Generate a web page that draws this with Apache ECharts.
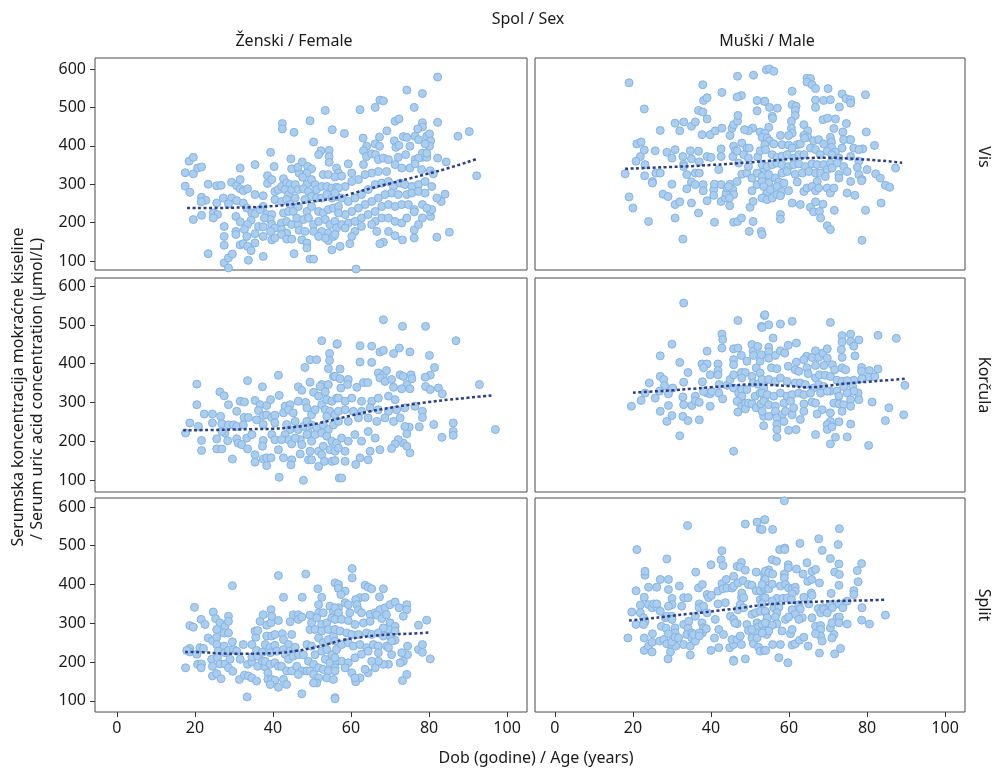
<!DOCTYPE html>
<html>
<head>
<meta charset="utf-8">
<title>Uric acid by age, sex and island</title>
<script src="https://cdn.jsdelivr.net/npm/echarts@6/dist/echarts.min.js"></script>
<style>
  html, body { margin: 0; padding: 0; background: #fff; }
  #chart { width: 995px; height: 768px; }
</style>
</head>
<body>
<div id="chart"></div>
<script>
'use strict';

// tick labels
var ageTicks = [0, 20, 40, 60, 80, 100];
var valTicks = [100, 200, 300, 400, 500, 600];
var sexNames = ['Ženski / Female', 'Muški / Male'];
var siteNames = ['Vis', 'Korčula', 'Split'];

// [age, serum uric acid]
var visF = [[18.5,360],[19.6,370],[17.5,330],[17.5,295],[18.7,279],[19.6,327],[19.6,208],[20.7,342],[21.7,345],[21.7,266],[22.8,258],[21.6,254],[21.7,219],[23.4,300],[23.4,119],
[25.6,296],[26.7,297],[25.6,251],[24.7,225],[25.8,221],[24.7,212],[27.5,190],[27.5,164],[27.5,141],[27.5,95],[28.6,108],[29.6,118],[28.6,82],[27.3,264],[29.4,264],[30.7,257],[28.6,249],
[29.4,305],[30.7,296],[31.6,288],[32.4,283],[33.5,288],[31.6,342],[31.6,312],[30.5,216],[31.6,202],[30.5,177],[30.5,169],[31.6,142],[32.4,145],[33.5,138],[34.4,127],[33.7,102],[32.4,251],[33.3,238],[34.6,225],[35.4,223],[34.4,206],[33.5,195],[32.7,182],[33.3,164],[35.4,351],[35.4,273],[35.4,171],[35.4,147],[36.3,190],
[37.5,270],[37.5,242],[37.5,189],[37.5,164],[37.5,112],[39.4,383],[38.6,322],[38.6,302],[39.7,312],[40.3,346],[38.4,221],[39.7,221],[39.3,208],[39.7,195],[40.5,186],[39.4,177],[39.7,155],[40.5,160],[37.8,212],[36.7,234],[40.5,281],[40.5,260],[41.4,286],[42.2,294],
[42.4,458],[42.4,444],[45.4,435],[44.6,366],[44.8,340],[42.7,314],[43.5,303],[44.4,299],[43.1,286],[44,273],[44.8,286],[45.7,299],[42.2,255],[43.5,260],[44.4,247],[45.7,264],[42.7,225],[44,229],[45.2,229],[42.2,199],[43.5,203],[44.8,195],[42.2,182],[43.5,173],[42.2,169],[43.5,157],[44.8,157],[45.4,119],[46.5,195],[46.7,180],[46.1,212],[46.5,242],[46.5,286],[46.7,329],[46.4,344],
[49.5,465],[50.4,410],[53.4,492],[55.2,442],[52.3,387],[54.4,388],[54.4,372],[54.4,357],[51.7,377],[47.4,155],[48.7,147],[48.7,134],[49.5,105],[50.4,105],[55.1,129],[54.2,153],[47.5,358],[48.9,346],[49.9,340],[48.7,329],[47.6,318],[48.7,300],[49.9,312],[50.8,299],[47.8,288],[49.1,281],[51.2,286],[52.5,294],[53.8,294],[55.1,290],[56.3,292],[52.9,325],[54.2,325],[56.3,342],[49.9,268],[48.2,260],[51.2,264],[52.5,264],[53.8,273],[55.1,264],[56.3,268],[48.7,229],[49.9,242],[51.7,229],[52.9,225],[54.2,234],[55.5,238],[56.8,242],[47.8,208],[49.1,212],[50.4,195],[51.7,203],[53.4,208],[54.6,195],[55.9,203],[48.2,177],[50.4,177],[52.5,177],[54.2,173],[55.5,164],[56.3,186],[53.4,160],[51.7,164],
[82.2,579],[74.3,545],[78.3,536],[67.4,519],[68.3,517],[62.3,494],[66.2,500],[76.2,500],[71.3,464],[72.3,470],[82.2,461],[78.3,460],[78.3,449],[77.1,444],[69.2,439],[58.3,432],[87.4,425],[90.3,437],[92.2,322],[63.1,420],[67.3,423],[66.2,405],[67.3,399],[73.4,424],[74.3,422],[76.4,425],[77.3,416],[79.4,425],[80.1,431],[80.4,413],[80.1,399],[79,405],[75.1,399],[71.1,413],[71.5,396],[72.3,401],[64,399],[63.2,387],[64,372],[65.3,379],[66.3,377],[82.2,368],[84.4,358],[78.3,370],[79.4,370],[78.3,381],[79.4,381],[76.4,364],[77.3,368],[63.2,351],[59.3,353],[56.8,329],[55.9,319],[57.6,321],[60.2,329],
[67,364],[68.3,368],[69.6,364],[72.1,370],[74,377],[71.3,351],[73,342],[75.1,342],[76.4,353],[78.1,338],[80.3,335],[81.1,327],[69.1,333],[67,333],[65.3,329],[63.6,325],[61.9,312],[60.2,307],[58.5,294],[56.8,290],[55.9,277],[57.6,264],[59.3,255],[61,264],[62.7,273],[64.4,286],[66.2,299],[67.9,303],[69.6,307],[70.9,294],[72.6,303],[73.8,299],[75.6,294],[77.3,299],[79,307],[80.7,294],[70.4,277],[72.1,273],[74.3,273],[75.6,277],[77.3,281],[79,277],[68.7,273],[67,264],[65.3,255],[63.6,247],[61.9,238],[60.2,229],[58.5,221],[56.8,225],[57.6,195],[59.3,199],[61,203],[62.7,212],[64.4,221],[66.2,229],[67.9,242],[69.6,247],[71.3,242],[73,247],[74.7,247],[67.9,212],[69.6,212],[71.3,203],[73,199],[74.3,212],[66.2,203],[61,177],[60.2,164],[62.7,190],[65.3,195],[66.6,177],[69.6,177],[71.3,166],[68.3,149],[67.4,145],[73.2,155],[76.2,160],[76.2,181],[77.3,195],[78.3,212],[80.4,216],[80.3,229],[80.7,234],[76.2,234],[76.2,228],[78.3,247],[79.4,238],[84.1,274],[83.1,255],[82,264],[85.2,175],[82,162],[57.2,138],[59.7,145],[61.3,79],[55.9,169],[58.5,186]];

var visM = [[19,564],[22.9,496],[27,440],[21,405],[22.1,410],[22.9,389],[21.9,372],[20.8,360],[23.1,351],[23,322],[18,327],[19,267],[20,238],[24,203],[25,307],[25,303],[25.7,387],[25.9,329],[27,329],[27.7,274],[29,268],[30,300],[28.7,383],[30,368],[30.8,390],[30.8,459],[33,462],[32,439],[35,451],[36,462],[32.8,372],[33,352],[33,346],[34.7,387],[35,366],[33.8,325],[36,329],[35,306],[33.8,288],[30.8,247],[32,254],[30.8,212],[35,251],[32.8,157],[36.8,225],[36,299],[37,358],[36.8,386],[36.8,492],[37.9,488],[37.9,559],[38.1,518],[39,525],[39,470],[37.7,429],[39.8,429],[41.1,439],[42.8,446],[42.8,539],[39,372],[40,370],[37,329],[38,299],[38,283],[39,257],[40.7,286],[40.7,271],[40.9,300],[42,338],[42.6,392],[42.6,372],[42.6,299],[42.6,255],[40.9,201],[43.7,264],[43.9,277],[44.1,290],[44.9,300],[44.9,427],[45.4,446],[45.8,455],[46.8,464],[46.9,479],[45.8,399],[46.2,387],[45.6,372],[46.7,386],[47.9,407],[49.2,394],[49.8,394],[48.4,377],[49.6,368],[47.1,355],[47.9,326],[49.2,329],[46.7,307],[45.6,286],[45.8,273],[44.7,264],[44.5,294],[45.8,201],[46.8,203],[47.8,212],[44.8,244],[49.8,177],[50.8,203],[50,240],[50.8,255],[50.5,283],[51.8,299],[50.5,316],[49.6,346],[51.8,329],[52,371],[52.6,387],[52.9,177],[51.8,518],[53.7,516],[51.8,491],[46.8,581],[47.8,531],[46.7,527],[50.9,584],[54.2,598],[50.7,446],[49.6,439],[48.6,442],[52.6,436],[53.5,420],[54.3,277],[53.5,264],[53.9,312],[53.5,342],
[55,600],[56.1,594],[64.6,576],[65.5,575],[64.6,566],[65.9,559],[66.8,549],[60.8,542],[70,549],[73.6,535],[74.6,523],[75.8,520],[75.8,511],[79.6,533],[53.8,516],[55,500],[57,498],[60.8,507],[61.8,503],[61.6,492],[61.6,479],[55.7,477],[55.8,471],[66.8,519],[68.9,518],[70.6,520],[66.8,500],[72.9,501],[68.7,468],[69.9,472],[71.9,470],[63.8,455],[60.6,464],[60.6,446],[60.8,433],[64.8,439],[63.8,427],[64.8,422],[71.5,445],[74.7,458],[73.8,436],[75.5,416],[79.8,436],[81.9,401],[78.9,392],[59.9,427],[57.8,427],[54.8,448],[53.8,433],[53.1,422],[54.4,420],[55,413],
[53.8,403],[56.1,405],[58.2,403],[59.9,402],[62.1,403],[62.9,405],[64,420],[66.3,413],[67.6,416],[68.9,405],[70.6,422],[70.9,410],[70.9,396],[71.9,384],[73.6,394],[74,416],[75.8,416],[76.6,394],[77.9,390],
[54,390],[55.7,377],[57,370],[58.2,373],[59.5,377],[60.8,394],[61.2,368],[62.5,377],[63.8,377],[65.5,394],[66.8,390],[68,377],[69.8,386],[71,377],[72.8,368],[75.8,372],[77.9,360],
[53.1,351],[54.4,346],[55.7,351],[56.9,355],[58.2,351],[59.9,346],[61.2,351],[62.5,353],[64.2,346],[65.9,353],[67.2,351],[68.9,351],[70.6,355],[72.3,355],[74,346],[77.5,344],
[53.1,320],[54.8,325],[56.5,316],[58.2,329],[59.5,333],[61.6,326],[63.4,329],[65.1,333],[66.8,329],[68.1,329],[69.8,338],[71,342],[72.8,325],[74.9,333],[77.9,325],[78.7,312],[80,338],[82.2,327],[83.4,316],
[53.1,307],[54.8,303],[57.4,306],[58.7,303],[62.1,306],[67.2,307],[69.3,320],[72.8,316],[75.8,307],[78.6,309],
[53.5,294],[55.2,286],[56.9,294],[58.2,281],[59.9,283],[63.8,281],[64.6,290],[65.9,294],[66.8,283],[67.6,290],[69.8,290],[70.6,277],[71.5,290],[74.9,277],[76.9,271],[84.7,297],[85.8,292],
[53.1,264],[54.4,260],[55.7,264],[56.9,273],[57.8,270],[60.8,251],[62.9,247],[65.5,240],[66.3,228],[66.8,254],[67.8,229],[68.7,248],[68.1,212],
[71.6,232],[79.6,232],[83.6,251],[69.8,192],[70.6,182],[78.7,154],[53.1,169],[57.8,221],[57.8,209],[87.3,342]];

var korF = [[17.6,221],[18.7,247],[20.5,347],[20.5,294],[20.9,238],[21.7,202],[21.7,176],[22.4,270],[24.5,270],[24.5,247],[25.6,206],[25.6,180],[26.9,180],[26.4,327],[27.5,317],[26.6,264],[26.9,245],[27.7,221],[26.9,225],[28.6,294],[28.6,242],[28.4,201],[29.6,154],[30.7,277],[29.9,242],[30.7,238],[30.7,206],[31.1,195],[32,191],[31.6,303],[32.7,301],[33.5,356],[32.6,261],[33.7,261],[32.4,242],[33.3,208],[33.5,180],[34.6,217],[35.4,305],[35.8,255],[35.4,165],[35.4,146],[36.7,294],[36.3,279],[37.3,340],[37.5,266],[38.4,268],[37.5,243],[37.5,202],[37.3,187],[37.5,154],[38.4,157],[38.4,137],[39.5,157],[38.4,292],[39.4,307],[39.7,261],[40.5,267],[41.4,370],[41.6,318],[40.5,247],[39.7,217],[40.5,204],[41.4,178],[41.6,107],[42.7,157],[43.1,290],[42.7,273],[43.5,243],[44.4,230],[43.1,217],[44.4,294],[44,281],[45.2,273],[44,204],[44.8,193],[44.8,152],[44.6,139],[45.7,251],[46.5,303],[46.5,340],[47.4,331],[46.5,230],[47.8,238],[47,204],[47.4,191],[47,167],[47.8,99],[48.2,390],[49.5,410],[51.2,410],[48.4,300],[48.7,286],[49.9,268],[50.8,281],[49.5,352],[50.4,326],[51.7,316],[52.5,294],[48.7,251],[49.9,242],[51.2,234],[49.1,221],[50.8,217],[49.9,200],[49.5,174],[49.1,152],[49.9,152],[51.7,174],[52.5,165],[52.5,459],[52.5,346],[54.2,346],[52.1,341],[53.4,327],[54.5,426],[54.5,408],[54.2,387],[55.5,367],[56.4,450],[53.8,307],[55.1,303],[56.3,311],[53.4,281],[54.6,277],[55.9,268],[52.9,242],[54.2,230],[55.5,242],[56.8,251],[52.5,221],[53.8,213],[55.1,200],[56.3,195],[52.9,187],[54.6,178],[55.9,174],[53.2,148],[55.1,148],[51.7,135],[57,105],[53.8,264],[45.7,208],[48.7,217],[42.2,204],
[68.3,513],[73.2,496],[79.1,496],[86.9,459],[56.5,451],[62.3,446],[65.3,445],[67.4,430],[68.3,434],[70.9,426],[72.4,440],[75.1,430],[62.3,404],[65.3,403],[80.1,421],[81.4,390],[80.3,370],[79,365],[57.2,386],[55.9,367],[57.2,361],[59.3,359],[59.1,346],[57.4,337],[61.5,339],[63.2,351],[64.3,351],[67,376],[68.3,371],[69.1,382],
[67.4,363],[68.7,354],[70.4,359],[72.6,371],[73.4,367],[75.4,371],[75.6,361],[74.3,346],[75.1,335],
[70.9,339],[73,335],[79.1,341],[80.3,333],[82.4,337],[83.4,322],[92.9,346],[97,230],[86.2,247],[86.2,225],[86.2,215],[83.3,210],[81.2,243],[78.3,277],[78.3,261],[77.5,237],[76.4,290],[74.9,236],[74.3,219],[75.1,170],[73.4,195],[74.3,187],[72.1,204],[71.3,193],[70.4,181],[67.4,178],[64.9,174],[64.4,152],[62.3,157],[61.2,140],[57.6,105],[58.5,148],[55.9,150],[61,217],[62.7,200],[64.4,225],[66.2,208],
[59.3,251],[61.9,260],[64.4,260],[66.6,251],[68.7,260],[70.9,251],[72.6,260],[73.8,238],
[56.8,311],[58.5,303],[60.2,311],[62.7,303],[65.3,303],[67,311],[69.6,316],[71.3,307],
[56.8,277],[58.5,281],[60.6,277],[62.7,277],[64.9,286],[67,281],[69.6,277],[71.7,281],[73.8,286],
[57.6,208],[59.3,200],[56.8,182],[58.5,174]];

var korM = [[19.6,290],[22.1,305],[23.1,324],[24.2,350],[25.7,311],[27,367],[27.9,359],[28.1,343],[27,420],[27,277],[26.8,329],[28.7,251],[30,266],[29.1,292],[29.1,322],[30,450],[30.2,337],[32,403],[32,214],[32.8,314],[33,294],[32.8,264],[34.1,253],[33,352],[34.1,377],[33,556],[35.1,292],[36,316],[36,304],[37,300],[37,255],[37.7,399],[39,399],[38.1,389],[39,432],[37.8,353],[39,324],[39.8,322],[39.8,371],[39.8,290],[41.8,399],[41.8,382],[41.8,371],[42,324],[42.8,476],[43,462],[42.8,440],[43,309],[44.1,344],[44.9,359],[45.8,438],[46.9,440],[45.8,410],[45.8,397],[45.8,371],[45.8,337],[46.9,511],[47.8,421],[47.1,324],[47.9,333],[47.9,316],[47.8,377],[48.8,377],[47.9,363],[46.7,303],[47.9,290],[46.9,275],[45.8,174],[49.2,406],[49.2,333],[48.8,298],[48.8,283],[49.6,298],[50.5,296],[50.5,449],[50.8,432],[50.9,421],[52,444],[50.5,367],[50.8,350],[52,347],[51.6,389],[52.6,376],[52.6,406],[52.9,423],[51.3,316],[52.6,324],[52.9,496],[53.7,524],[51.6,286],[52.8,296],[53.5,337],[53.7,307],[53.5,240],[53.5,264],[38.1,328],[40.2,328],[42.1,346],
[53.8,526],[54.8,500],[53.1,493],[57.8,502],[60.8,509],[70.6,506],[55.9,466],[73.6,472],[75.8,476],[73.6,456],[75.8,457],[77.9,461],[76.6,445],[82.8,473],[87.5,465],[61.9,453],[59.8,447],[54.8,442],[54.8,430],[54.8,414],[56.5,421],[57.8,433],[58.9,427],[73.4,436],[73.6,416],[76.9,420],[64.5,419],[65.9,416],[66.8,433],[67.6,416],[68.7,427],[69.8,438],[69.8,414],[63.8,410],[61.9,404],[66.8,395],[68.9,395],[71.1,397],[71.7,384],[73.6,389],[74.5,384],[78.6,390],[78.6,380],[80.6,382],[82.8,386],[80.5,365],[82,366],[76.6,357],[78.7,361],[55.5,389],[56.9,387],[59.8,393],[61.6,384],[62.5,380],[64.6,389],[64.9,374],
[66.8,363],[67.8,371],[69.3,370],[70.6,367],[72.3,357],[73.6,354],[74.9,356],[76.3,341],[77.7,324],
[53.1,359],[54.8,359],[56.5,354],[57.8,363],[59.5,354],[61.6,350],[62.9,350],[64.2,346],[66.3,337],[67.6,346],[68.9,341],[70.6,329],[72.3,329],[74,341],[76.6,329],
[53.1,324],[54.4,320],[56.1,316],[57.8,324],[59.5,316],[60.8,320],[62.5,324],[63.8,320],[65.5,324],[68.1,324],[69.8,329],[72.8,316],[74.9,324],[75.8,307],[77.9,307],[81.3,301],[85.6,286],[89.4,268],[89.7,344],[84.7,253],
[53.5,303],[54.8,294],[56.5,290],[58.7,298],[60.4,303],[63.8,296],[65.9,301],[66.8,298],[68.5,281],[70.6,273],[71.5,298],[72.8,296],[74,294],[75.8,290],
[53.1,277],[54.8,264],[56.5,277],[58.2,268],[59.1,277],[60.8,268],[61.2,286],[63.8,277],[67.2,270],[70.6,251],[72.8,250],[73.6,277],
[56.9,260],[58.7,251],[56.9,243],[56.9,230],[56.9,210],[59.9,228],[61.8,230],[62.9,256],[66.8,217],[69.8,243],[69.8,230],[71,237],[71.9,210],[70.6,193],[74.9,211],[75.8,244],[80.4,189]];

var splF = [[17.6,185],[18.7,294],[19.6,290],[18.7,235],[18.7,226],[17.9,230],[19.9,341],[20.5,220],[20.7,194],[21.7,195],[21.6,185],[21.6,310],[22.6,297],[21.3,237],[22.2,235],[23.4,262],[24.5,255],[24.3,207],[24.5,189],[24.5,164],[24.7,329],[25.3,312],[26.4,301],[25.6,284],[25.6,264],[25.6,245],[26,228],[25.8,211],[26.4,195],[27.7,195],[25.6,170],[26.7,157],[27.7,292],[27.5,275],[28.6,275],[28.6,318],[28.6,305],[27.5,241],[27.7,224],[28.6,230],[29.9,232],[29,207],[28.6,185],[29.7,176],[29.6,397],[29.6,252],[30.7,228],[31.6,207],[31.4,155],[32.7,166],[33.7,164],[34.6,159],[35.8,151],[32.4,245],[33.5,194],[34.6,200],[34.6,213],[33.4,110],[34.6,245],[35.6,264],[35.4,280],[36.1,281],[36.7,305],[35.8,230],[36.1,215],[37.3,225],[36.1,189],[37.3,202],[38,187],[37.5,322],[38.4,295],[39.5,301],[39.5,335],[39.7,318],[38.4,267],[39.7,267],[40.5,271],[38,245],[39.3,238],[40.5,243],[39.3,224],[41,228],[38,202],[39.3,194],[40.5,198],[41.4,189],[38.7,172],[38.7,155],[39.7,155],[40.5,153],[39.3,142],[41.4,135],[42.7,155],[43.5,142],[41.4,423],[42.7,367],[41.4,307],[42.4,273],[42.7,258],[44,245],[42.7,232],[43.1,220],[44,207],[42.2,189],[43.5,177],[44.4,304],[45.2,322],[46.5,322],[46.5,310],[47.4,316],[44.8,271],[44.4,228],[45.7,238],[45.2,215],[46.5,219],[47.8,219],[44.8,177],[46.1,189],[47.4,177],[46.5,168],[48.7,177],[47.4,118],[47.5,367],[48.4,427],[49.5,321],[49.5,284],[49.9,301],[48.7,245],[49.9,241],[50.8,219],[49.1,202],[50.4,194],[51.7,185],[49.5,177],[50.4,168],[51.7,159],[51.2,146],[50.4,146],[51.5,389],[52.5,367],[51.7,348],[51.7,327],[52.9,327],[51.2,314],[52.5,297],[53.8,301],[50.8,284],[52.5,280],[54.2,284],[51.7,262],[52.9,250],[54.2,258],[55.5,267],[52.5,228],[53.8,232],[55.1,219],[56.3,232],[53.4,207],[54.6,198],[56.3,202],[52.9,181],[54.2,177],[55.9,185],[53.8,159],[55.5,155],[55.9,108],[54.6,344],[55.5,331],[56.8,340],[56.6,398],[56.8,390],[55.1,314],[56.8,314],
[60.3,441],[60.3,417],[55.9,404],[56.8,400],[56.8,390],[58.5,383],[57.4,374],[63.6,398],[64.4,393],[65.3,389],[68.3,389],[62.3,366],[63.6,367],[61.2,361],[67.3,368],[55.9,340],[58.5,353],[59.3,348],[61.5,348],
[56.8,327],[59.7,327],[61.9,335],[62.7,327],[64.9,323],[66.2,327],[67.4,335],[68.7,340],[70,348],[71.3,355],[72.3,340],[74.3,348],[74.3,335],[73.4,318],
[55.9,310],[57.6,310],[59.3,307],[61,297],[63.2,301],[64.9,305],[66.6,321],[67.9,312],[69.1,322],[70,301],[71.3,292],[69.6,284],[68.3,288],[77.3,295],[79.4,308],
[55.9,284],[57.2,280],[58.9,275],[60.2,271],[61.9,271],[64,275],[65.3,271],[67,275],[68.3,267],[70,267],[71.3,280],[71.3,256],
[55.9,254],[57.6,245],[59.3,250],[60.6,241],[62.3,245],[64,237],[65.7,245],[67,241],[69.1,241],[70.4,254],[69.6,237],
[77.3,232],[78.3,245],[78.3,225],[74.5,241],[74.5,219],[73,224],[73.4,202],[72.6,198],[70.4,219],[69.6,194],[68.3,194],[67,202],
[55.9,211],[57.6,202],[59.3,198],[61,211],[62.7,220],[64.4,228],[65.3,202],[67,224],
[55.9,177],[58.5,185],[60.2,172],[62.3,159],[64.4,172],[66.2,185],[63.6,181],
[61.2,149],[61,159],[74.3,168],[73.2,152],[80.3,208],[55.9,105]];

var splM = [[18.7,262],[19.7,329],[20.8,384],[21,490],[20.8,297],[21.9,347],[21.9,327],[22.7,314],[23.1,304],[22.7,297],[22.9,262],[22.9,230],[23.1,424],[23.1,434],[22.9,367],[24,393],[24,241],[24.9,226],[24.9,251],[25,273],[24,348],[24.9,340],[26.1,341],[27,331],[25.3,350],[26.1,350],[26.1,393],[27,413],[26.8,254],[27.9,258],[27.3,292],[28.5,287],[28.3,314],[28.7,318],[30,318],[30,310],[28.7,466],[29.1,413],[29.1,387],[30,364],[30,348],[29.1,344],[28.7,247],[30,241],[29.6,226],[31,241],[30,252],[29,208],[30.8,288],[30.8,275],[29.1,273],[30.8,264],[31.9,396],[31.7,262],[33,245],[32.5,344],[33,366],[34.1,366],[33,297],[34.3,305],[34.1,287],[33.8,271],[35.1,275],[35.1,262],[34.7,241],[36,254],[35.5,271],[34.7,218],[36.1,432],[34,552],[36.8,391],[37.8,400],[37,350],[37,340],[38.1,344],[36,318],[37.7,301],[38.1,288],[37.8,275],[37,275],[37,267],[38.8,286],[39,374],[39.4,366],[40.1,372],[40,451],[39,327],[40,230],[40.9,262],[42,237],[42,284],[43.2,271],[41.1,310],[41.8,383],[42.8,402],[43.1,389],[41.8,350],[43.7,353],[42.8,487],[42.6,464],[43.1,449],[43.9,413],[44.1,391],[45.4,391],[44.8,237],[45.8,245],[45.4,258],[45.8,205],[45,318],[45.8,310],[46.7,299],[46.1,301],[45.8,421],[46.7,447],[47.8,457],[47.5,445],[48.8,437],[45.8,396],[46.9,404],[48.2,410],[47.8,367],[47.9,378],[48.4,366],[46.9,335],[47.5,348],[48.4,340],[46.7,258],[47.8,245],[47.5,267],[48.8,556],[51.8,561],[53.7,567],[52.6,543],[48.8,208],[45.8,202],[49.6,400],[50.5,398],[51.6,384],[52.6,384],[53.7,389],[53.7,393],[51.6,432],[53.7,427],[53.7,413],[54.8,438],
[49.2,297],[49.6,281],[50.5,284],[51.8,301],[52.2,290],[53.1,297],[54.3,284],[50.5,323],[51.4,327],[52.6,331],[54.1,327],[50.5,262],[52.2,275],[53.5,280],[54.3,271],[50.9,247],[52.2,238],[52.6,228],[53.7,230],[51.8,262],[52.6,361],[53.5,367],
[58.8,616],[53.8,567],[53.1,542],[55.8,542],[72.9,544],[67.6,518],[72.6,503],[62.8,506],[57.6,490],[58.9,494],[58.9,490],[68.5,488],[55.7,464],[56.8,460],[70.6,467],[64.6,456],[72.8,453],[78.6,454],[77.5,436],[59.8,451],[59.8,443],[61.9,440],[65.9,434],[66.8,439],[71.7,432],[72.9,426],[53.9,434],[54.8,430],[55.8,427],[58.8,427],[58.8,417],[63.6,427],[64.8,408],[65.8,413],[67.8,404],[72.8,398],[70.8,377],[77.7,407],[76.6,384],[76.6,374],[53.9,413],[53.1,400],[54.8,389],[55.7,401],[57.8,396],[59.1,400],[59.9,391],[60.8,389],[61.6,393],[61.6,383],[60.8,376],[63.8,367],[65.7,378],[65.9,372],[56.9,364],[58.4,364],[59.5,365],[60.6,361],[53.9,366],[55.7,357],[53.1,350],[62.5,348],[65.1,350],[67.5,338],[68.7,340],[70,340],[70.6,348],[71.1,340],[72.8,350],[73.8,340],[74.9,357],[78.7,340],[78.6,308],[80.6,298],[84.7,321],
[53.9,331],[56.1,340],[57.4,341],[56.9,327],[60.8,335],[62.9,337],[61.6,323],[63.4,314],[65.9,314],[68.1,327],[68.9,335],[69.8,327],[72.3,314],[72.9,316],
[54.4,314],[56.5,316],[59.1,310],[59.9,316],[56.9,299],[55.7,295],[53.9,301],[54.8,280],[53.1,275],[58.2,280],[60.4,273],[60.8,284],[62.5,310],[66.8,292],[68.1,294],[68.1,284],[68.1,267],[71.5,271],[70.6,288],[71,301],[72.8,301],[74.9,298],
[55.8,245],[57.8,245],[60.8,244],[61.6,247],[62.7,256],[63.8,264],[64.9,241],[66.8,273],[68.5,254],[71,262],[73.2,235],[71.7,221],[67.8,223],[57.4,211],[59.7,198],[54,230]];

// smoothed trend lines (dotted)
var visFTrend = [[18,238],[25,238],[30,239],[35,240],[40,243],[45,248],[50,255],[56,264],[60,275],[65,289],[70,302],[75,315],[80,328],[85,342],[92,365]];
var visMTrend = [[18,340],[25,343],[30,345],[35,347],[40,350],[45,353],[50,357],[55,361],[60,365],[65,368],[70,369],[75,367],[80,364],[85,360],[89,356]];
var korFTrend = [[17,228],[25,229],[30,230],[35,231],[40,232],[45,236],[50,243],[55,254],[60,266],[65,277],[70,286],[75,294],[80,301],[85,307],[90,312],[96,318]];
var korMTrend = [[20,325],[25,328],[30,331],[35,335],[40,339],[45,343],[50,346],[55,345],[60,342],[65,339],[70,343],[75,349],[80,353],[85,357],[90,361]];
var splFTrend = [[17.5,226],[22,225],[27,222],[32,221],[37,222],[42,224],[46,229],[50,236],[54,246],[58,257],[62,263],[66,268],[70,271],[75,273],[80,276]];
var splMTrend = [[19,307],[24,312],[29,318],[34,324],[38,328],[43,334],[48,340],[53,347],[58,351],[63,354],[68,356],[74,358],[80,359],[85,361]];

var panels = [
  { pts: visF, trend: visFTrend },
  { pts: visM, trend: visMTrend },
  { pts: korF, trend: korFTrend },
  { pts: korM, trend: korMTrend },
  { pts: splF, trend: splFTrend },
  { pts: splM, trend: splMTrend }
];

var FONT = '"Noto Sans", "DejaVu Sans", sans-serif';
var TXT = '#1a1a1a';

// panel frames in pixels
var colLeft = [95, 535];
var colWidth = [432, 430];
var rowTop = [58, 278, 498];
var rowHeight = [212, 214, 214];
var xRange = [[-5.6, 105.1], [-5.1, 105.1]];
var yRange = [[76.6, 628.6], [69, 620.6], [71, 623.2]];

var grids = [], xAxes = [], yAxes = [], series = [];
for (var i = 0; i < 6; i++) {
  var r = Math.floor(i / 2), c = i % 2;
  grids.push({
    left: colLeft[c], top: rowTop[r], width: colWidth[c], height: rowHeight[r],
    show: true, borderColor: '#4a4a4a', borderWidth: 1, backgroundColor: '#fff'
  });
  xAxes.push({
    gridIndex: i, type: 'value', min: xRange[c][0], max: xRange[c][1],
    position: 'bottom',
    axisLine: { show: false, onZero: false },
    splitLine: { show: false },
    axisTick: { show: r === 2, length: 5, lineStyle: { color: '#333' }, customValues: ageTicks },
    axisLabel: { show: r === 2, customValues: ageTicks, color: TXT, fontSize: 16, fontFamily: FONT, margin: 8 }
  });
  yAxes.push({
    gridIndex: i, type: 'value', min: yRange[r][0], max: yRange[r][1],
    position: 'left',
    axisLine: { show: false, onZero: false },
    splitLine: { show: false },
    axisTick: { show: c === 0, length: 5, lineStyle: { color: '#333' }, customValues: valTicks },
    axisLabel: { show: c === 0, customValues: valTicks, color: TXT, fontSize: 16, fontFamily: FONT, margin: 9 }
  });
  series.push({
    type: 'scatter', xAxisIndex: i, yAxisIndex: i,
    data: panels[i].pts, symbolSize: 8,
    itemStyle: { color: '#abcdee', borderColor: '#85b4e2', borderWidth: 1, opacity: 1 },
    z: 2
  });
  series.push({
    type: 'line', xAxisIndex: i, yAxisIndex: i,
    data: panels[i].trend, smooth: true, showSymbol: false,
    lineStyle: { color: '#2c3f86', width: 2.5, type: [3, 2.5] },
    z: 3
  });
}

var graphics = [
  { type: 'text', x: 528, y: 19, style: { text: 'Spol / Sex', fill: TXT, font: '16px ' + FONT, textAlign: 'center', textVerticalAlign: 'middle' } },
  { type: 'text', x: 294, y: 41, style: { text: sexNames[0], fill: TXT, font: '16px ' + FONT, textAlign: 'center', textVerticalAlign: 'middle' } },
  { type: 'text', x: 767, y: 41, style: { text: sexNames[1], fill: TXT, font: '16px ' + FONT, textAlign: 'center', textVerticalAlign: 'middle' } },
  { type: 'text', x: 536, y: 758, style: { text: 'Dob (godine) / Age (years)', fill: TXT, font: '16px ' + FONT, textAlign: 'center', textVerticalAlign: 'middle' } },
  { type: 'text', x: 18, y: 387, rotation: Math.PI / 2, style: { text: 'Serumska koncentracija mokraćne kiseline', fill: TXT, font: '16px ' + FONT, textAlign: 'center', textVerticalAlign: 'middle' } },
  { type: 'text', x: 37, y: 389, rotation: Math.PI / 2, style: { text: '/ Serum uric acid concentration (µmol/L)', fill: TXT, font: '16px ' + FONT, textAlign: 'center', textVerticalAlign: 'middle' } }
];
var stripY = [157, 385, 605];
siteNames.forEach(function (name, k) {
  graphics.push({ type: 'text', x: 984, y: stripY[k], rotation: -Math.PI / 2,
    style: { text: name, fill: TXT, font: '16px ' + FONT, textAlign: 'center', textVerticalAlign: 'middle' } });
});

var myChart = echarts.init(document.getElementById('chart'));
myChart.setOption({
  animation: false,
  backgroundColor: '#fff',
  grid: grids,
  xAxis: xAxes,
  yAxis: yAxes,
  series: series,
  graphic: graphics
});
</script>
</body>
</html>
